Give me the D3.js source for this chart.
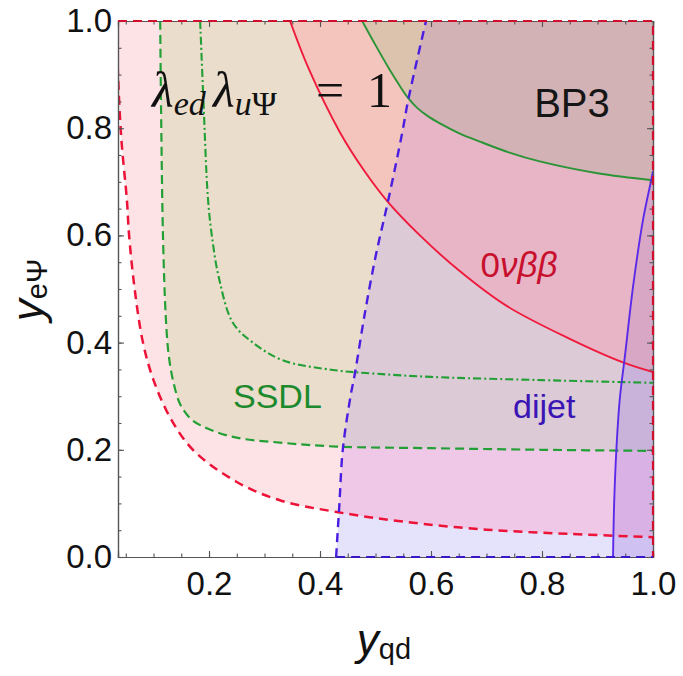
<!DOCTYPE html>
<html>
<head>
<meta charset="utf-8">
<script src="https://cdn.jsdelivr.net/npm/d3@7"></script>
<style>
  body { margin: 0; background: #fff; }
  svg { display: block; }
</style>
</head>
<body>
<div id="chart"></div>
<script>
// curves, points are [y_qd, y_eΨ]
var redDashed = [[0.033, 1.0], [0.036, 0.9], [0.042, 0.78], [0.052, 0.666], [0.056, 0.6], [0.066, 0.5], [0.081, 0.4],
  [0.1, 0.33], [0.13, 0.26], [0.171, 0.2], [0.25, 0.14], [0.33, 0.105], [0.43, 0.084],
  [0.55, 0.066], [0.7, 0.051], [0.85, 0.043], [1.0, 0.037]];
var greenDashed = [[0.112, 1.0], [0.114, 0.8], [0.117, 0.6], [0.122, 0.45], [0.127, 0.38], [0.135, 0.33],
  [0.148, 0.285], [0.165, 0.26], [0.184, 0.246], [0.243, 0.224], [0.333, 0.213], [0.43, 0.206],
  [0.6, 0.203], [0.8, 0.2], [1.0, 0.198]];
var greenDotDash = [[0.184, 1.0], [0.19, 0.85], [0.198, 0.67], [0.205, 0.6], [0.218, 0.52], [0.243, 0.437],
  [0.279, 0.4], [0.333, 0.367], [0.423, 0.349], [0.5, 0.342], [0.6, 0.336], [0.8, 0.33], [1.0, 0.325]];
var redSolid = [[0.346, 1.0], [0.38, 0.91], [0.436, 0.792], [0.48, 0.72], [0.521, 0.664], [0.58, 0.6],
  [0.65, 0.535], [0.737, 0.468], [0.85, 0.407], [0.946, 0.363], [1.0, 0.345]];
var greenSolid = [[0.476, 1.0], [0.5, 0.955], [0.525, 0.91], [0.545, 0.877], [0.559, 0.856], [0.575, 0.838],
  [0.595, 0.822], [0.616, 0.809], [0.65, 0.791], [0.688, 0.775], [0.74, 0.755], [0.796, 0.738],
  [0.9, 0.716], [1.0, 0.703]];
var blueDashed = [[0.429, 0.0], [0.435, 0.1], [0.441, 0.2], [0.455, 0.3], [0.463, 0.343], [0.48, 0.45],
  [0.5, 0.56], [0.523, 0.666], [0.548, 0.791], [0.559, 0.853], [0.591, 1.0]];
var blueSolid = [[0.928, 0.0], [0.93, 0.1], [0.934, 0.2], [0.94, 0.293], [0.95, 0.38], [0.964, 0.504],
  [0.982, 0.629], [0.998, 0.709], [1.0, 0.72]];

var xTickValues = [0.2, 0.4, 0.6, 0.8, 1.0];
var yTickValues = [0.0, 0.2, 0.4, 0.6, 0.8, 1.0];
var minorTickValues = d3.range(0, 1.0001, 0.05);

var svgWidth = 683;
var svgHeight = 676;
var margin = { top: 21, right: 30, bottom: 119, left: 118 };
var width = svgWidth - margin.left - margin.right;
var height = svgHeight - margin.top - margin.bottom;
var font = "'Liberation Sans', Arial, sans-serif";

var svg = d3.select("#chart").append("svg")
  .attr("width", svgWidth)
  .attr("height", svgHeight);

var chartGroup = svg.append("g")
  .attr("transform", `translate(${margin.left}, ${margin.top})`);

var x = d3.scaleLinear().domain([0.036, 1]).range([0, width]);
var y = d3.scaleLinear().domain([0, 1]).range([height, 0]);

var line = d3.line()
  .x(d => x(d[0]))
  .y(d => y(d[1]))
  .curve(d3.curveCatmullRom.alpha(0.5));

// region above / right of a curve that runs from the top edge to the right edge
function upper(pts) {
  return line(pts) + `L${x(1.02)},${y(1)}L${x(1.02)},${y(1.02)}L${x(pts[0][0])},${y(1.02)}Z`;
}
var blueDashedRegion = line(blueDashed) + `L${x(1.02)},${y(1.02)}L${x(1.02)},${y(-0.02)}L${x(0.429)},${y(-0.02)}Z`;
var blueSolidRegion = line(blueSolid) + `L${x(1.02)},${y(0.72)}L${x(1.02)},${y(-0.02)}L${x(0.928)},${y(-0.02)}Z`;

var defs = svg.append("defs");
defs.append("clipPath").attr("id", "plot")
  .append("rect").attr("width", width).attr("height", height);
defs.append("clipPath").attr("id", "blueD")
  .append("path").attr("d", blueDashedRegion);
defs.append("clipPath").attr("id", "blueS")
  .append("path").attr("d", blueSolidRegion);

// nested regions: redDashed > greenDashed > redSolid > greenSolid
var nested = [redDashed, greenDashed, redSolid, greenSolid];
var palettes = [
  { clip: null, colors: ["#ffffff", "#fde3e6", "#eaddcc", "#f3c5bc", "#dcc3ae"] },
  { clip: "blueD", colors: ["#e5e2fb", "#f0c8e7", "#dccbd7", "#e7b5c6", "#d2b2b5"] },
  { clip: "blueS", colors: ["#cfc2f2", "#dab1e4", "#cab3da", "#d8a7c6", "#cfa6c0"] }
];

var fills = chartGroup.append("g").attr("clip-path", "url(#plot)");
palettes.forEach(function(p) {
  var g = fills.append("g");
  if (p.clip) g.attr("clip-path", `url(#${p.clip})`);
  g.append("rect")
    .attr("width", width)
    .attr("height", height)
    .attr("fill", p.colors[0]);
  g.selectAll("path")
    .data(nested)
    .enter()
    .append("path")
    .attr("d", d => upper(d))
    .attr("fill", (d, i) => p.colors[i + 1]);
});

// boundary lines
var lines = chartGroup.append("g").attr("clip-path", "url(#plot)").attr("fill", "none");
var lineStyles = [
  { data: redDashed, color: "#ec1238", w: 2.5, dash: "9,6" },
  { data: greenDashed, color: "#22a035", w: 2.2, dash: "9,5" },
  { data: greenDotDash, color: "#22a035", w: 2.1, dash: "8,3,2,3" },
  { data: redSolid, color: "#ef1a3c", w: 1.9, dash: null },
  { data: greenSolid, color: "#2a9436", w: 1.9, dash: null },
  { data: blueDashed, color: "#4a1ee0", w: 2.4, dash: "9,6" },
  { data: blueSolid, color: "#5a2ae8", w: 1.9, dash: null }
];
lines.selectAll("path")
  .data(lineStyles)
  .enter()
  .append("path")
  .attr("d", d => line(d.data))
  .attr("stroke", d => d.color)
  .attr("stroke-width", d => d.w)
  .attr("stroke-dasharray", d => d.dash);

// axes with inward ticks
function styleAxis(g) {
  g.select(".domain").attr("stroke", "#555").attr("stroke-width", 1.2);
  g.selectAll(".tick line").attr("stroke", "#555").attr("stroke-width", 1.1);
  g.selectAll("text").attr("font-family", font).attr("font-size", "33px").attr("fill", "#111");
}

chartGroup.append("g")
  .attr("transform", `translate(0, ${height})`)
  .call(d3.axisBottom(x).tickValues(xTickValues).tickSize(-6).tickPadding(15).tickFormat(d3.format(".1f")))
  .call(styleAxis);
chartGroup.append("g")
  .call(d3.axisLeft(y).tickValues(yTickValues).tickSize(-6).tickPadding(6).tickFormat(d3.format(".1f")))
  .call(styleAxis);
chartGroup.append("g")
  .call(d3.axisTop(x).tickValues(xTickValues).tickSize(-6).tickFormat(""))
  .call(styleAxis);
chartGroup.append("g")
  .attr("transform", `translate(${width}, 0)`)
  .call(d3.axisRight(y).tickValues(yTickValues).tickSize(-6).tickFormat(""))
  .call(styleAxis);

// minor ticks
var minorX = minorTickValues.filter(v => v > 0.036);
chartGroup.append("g")
  .attr("transform", `translate(0, ${height})`)
  .call(d3.axisBottom(x).tickValues(minorX).tickSize(-3.5).tickFormat(""))
  .call(styleAxis);
chartGroup.append("g")
  .call(d3.axisTop(x).tickValues(minorX).tickSize(-3.5).tickFormat(""))
  .call(styleAxis);
chartGroup.append("g")
  .call(d3.axisLeft(y).tickValues(minorTickValues).tickSize(-3.5).tickFormat(""))
  .call(styleAxis);
chartGroup.append("g")
  .attr("transform", `translate(${width}, 0)`)
  .call(d3.axisRight(y).tickValues(minorTickValues).tickSize(-3.5).tickFormat(""))
  .call(styleAxis);

// region edges along the frame
chartGroup.append("path")
  .attr("d", `M${x(0.036)},0H${width}V${height}`)
  .attr("fill", "none")
  .attr("stroke", "#d0102e")
  .attr("stroke-width", 2.2)
  .attr("stroke-dasharray", "9,6");
chartGroup.append("path")
  .attr("d", `M${x(0.429)},${height}H${width}`)
  .attr("fill", "none")
  .attr("stroke", "#3a18c8")
  .attr("stroke-width", 2)
  .attr("stroke-dasharray", "9,6");

// labels inside the plot
var lam = chartGroup.append("text")
  .attr("font-family", "'Liberation Serif', 'DejaVu Serif', serif")
  .attr("font-size", "50px")
  .attr("fill", "#111")
  .attr("y", 86);
lam.append("tspan").attr("x", 34).attr("font-style", "italic").text("λ");
lam.append("tspan").attr("font-size", "34px").attr("font-style", "italic").attr("dy", 8).text("ed");
lam.append("tspan").attr("x", 95).attr("dy", -8).attr("font-style", "italic").text("λ");
lam.append("tspan").attr("font-size", "34px").attr("font-style", "italic").attr("dy", 8).text("u");
lam.append("tspan").attr("font-size", "34px").text("Ψ");
lam.append("tspan").attr("x", 198).attr("dy", -8).text("=");
lam.append("tspan").attr("x", 249).text("1");

chartGroup.append("text")
  .attr("x", 454).attr("y", 96)
  .attr("text-anchor", "middle")
  .attr("font-family", font).attr("font-size", "40px").attr("fill", "#151515")
  .text("BP3");

var nbb = chartGroup.append("text")
  .attr("x", 401).attr("y", 256)
  .attr("text-anchor", "middle")
  .attr("font-family", font).attr("font-size", "35px").attr("fill", "#c8102e");
nbb.append("tspan").text("0");
nbb.append("tspan").attr("font-style", "italic").text("νββ");

chartGroup.append("text")
  .attr("x", 115).attr("y", 387)
  .attr("font-family", font).attr("font-size", "34px").attr("fill", "#1c8a2c")
  .text("SSDL");

chartGroup.append("text")
  .attr("x", 395).attr("y", 397)
  .attr("font-family", font).attr("font-size", "34px").attr("fill", "#3a14b4")
  .text("dijet");

// axis titles
var xt = svg.append("text")
  .attr("x", 384).attr("y", 655)
  .attr("text-anchor", "middle")
  .attr("font-family", font).attr("fill", "#111");
xt.append("tspan").attr("font-size", "44px").attr("font-style", "italic").text("y");
xt.append("tspan").attr("font-size", "29px").attr("dy", 4).text("qd");

var yt = svg.append("text")
  .attr("transform", "translate(43, 290) rotate(-90)")
  .attr("text-anchor", "middle")
  .attr("font-family", font).attr("fill", "#111");
yt.append("tspan").attr("font-size", "44px").attr("font-style", "italic").text("y");
yt.append("tspan").attr("font-size", "29px").attr("dy", 4).text("eΨ");
</script>
</body>
</html>
